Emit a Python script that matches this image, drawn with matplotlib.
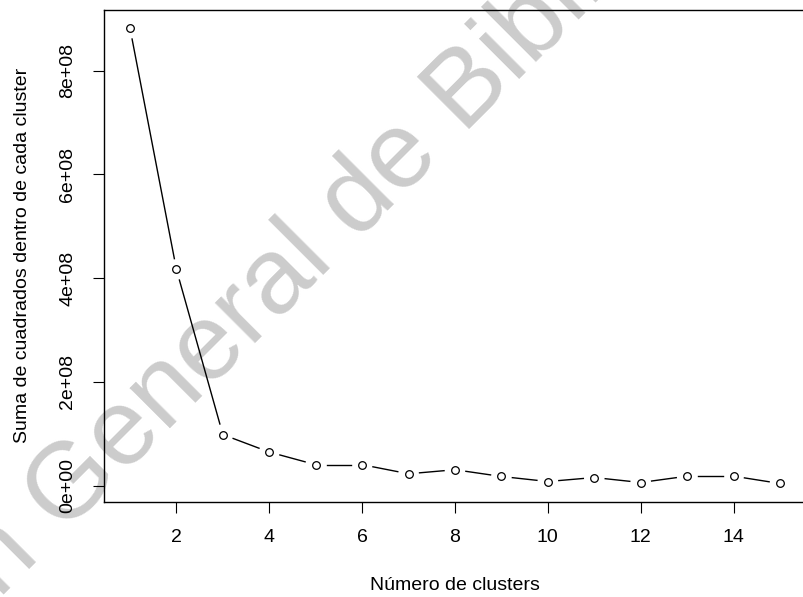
import numpy as np
import matplotlib
matplotlib.use("Agg")
import matplotlib.pyplot as plt
from matplotlib.textpath import TextPath
from matplotlib.font_manager import FontProperties
from matplotlib.transforms import IdentityTransform

plt.rcParams['font.family'] = ['Liberation Sans', 'DejaVu Sans']

# suma de cuadrados intra-cluster (metodo del codo)
clusters = list(range(1, 16))
wss = [8.815e8, 4.168e8, 0.987e8, 0.65e8, 0.407e8, 0.407e8, 0.232e8, 0.31e8,
       0.18e8, 0.083e8, 0.16e8, 0.064e8, 0.186e8, 0.186e8, 0.045e8]

x_ticks = [2, 4, 6, 8, 10, 12, 14]
y_ticks = [0, 2e8, 4e8, 6e8, 8e8]
y_labels = ["0e+00", "2e+08", "4e+08", "6e+08", "8e+08"]

watermark = "Dirección General de Bibliotecas"

fig = plt.figure(figsize=(8.04, 5.97), dpi=100, facecolor='white')
ax = fig.add_axes([104 / 804, 95.3 / 597, 702 / 804, 491.7 / 597])
ax.patch.set_facecolor('none')

# marca de agua gris a 45 grados, la "B" queda sobre el borde superior
wm_size = 78
fp = FontProperties(family='Liberation Sans')
size_px = wm_size * fig.dpi / 72
pre = TextPath((0, 0), "Dirección General de B", size=size_px, prop=fp).get_extents().xmax
b_w = TextPath((0, 0), "B", size=size_px, prop=fp).get_extents().xmax
off = (pre - b_w) / np.sqrt(2)
bx, by = 463, 597 - 135
fig.text(bx - off, by - off, watermark, fontsize=wm_size, color='#cccccc',
         rotation=45, rotation_mode='anchor', ha='left', va='baseline',
         transform=IdentityTransform(), zorder=-1)

ax.plot(clusters, wss, linestyle='none', marker='o', ms=5.5, mew=0.9,
        mfc='white', mec='black', zorder=3)

# limites como en R (4% a cada lado)
xpad = 0.04 * (max(clusters) - min(clusters))
ypad = 0.04 * (max(wss) - min(wss))
ax.set_xlim(min(clusters) - xpad, max(clusters) + xpad)
ax.set_ylim(min(wss) - ypad, max(wss) + ypad)

# lineas con hueco alrededor de cada punto (type = "b")
gap = 11
pts = ax.transData.transform(np.column_stack([clusters, wss]))
inv = ax.transData.inverted()
for p0, p1 in zip(pts[:-1], pts[1:]):
    d = p1 - p0
    L = np.hypot(d[0], d[1])
    if L <= 2 * gap:
        continue
    u = d / L
    a, b = inv.transform([p0 + u * gap, p1 - u * gap])
    ax.plot([a[0], b[0]], [a[1], b[1]], color='black', lw=1)

ax.set_xticks(x_ticks)
ax.set_yticks(y_ticks)
ax.set_yticklabels(y_labels, rotation=90, va='center')
ax.tick_params(axis='both', length=8, width=0.8, labelsize=14, color='black')
ax.tick_params(axis='x', pad=12)
ax.tick_params(axis='y', pad=12)
for s in ax.spines.values():
    s.set_linewidth(1.0)

ax.set_xlabel("Número de clusters", fontsize=14, labelpad=22)
ax.set_ylabel("Suma de cuadrados dentro de cada cluster", fontsize=14, labelpad=20)

fig.savefig("out.png", dpi=100, facecolor='white')
